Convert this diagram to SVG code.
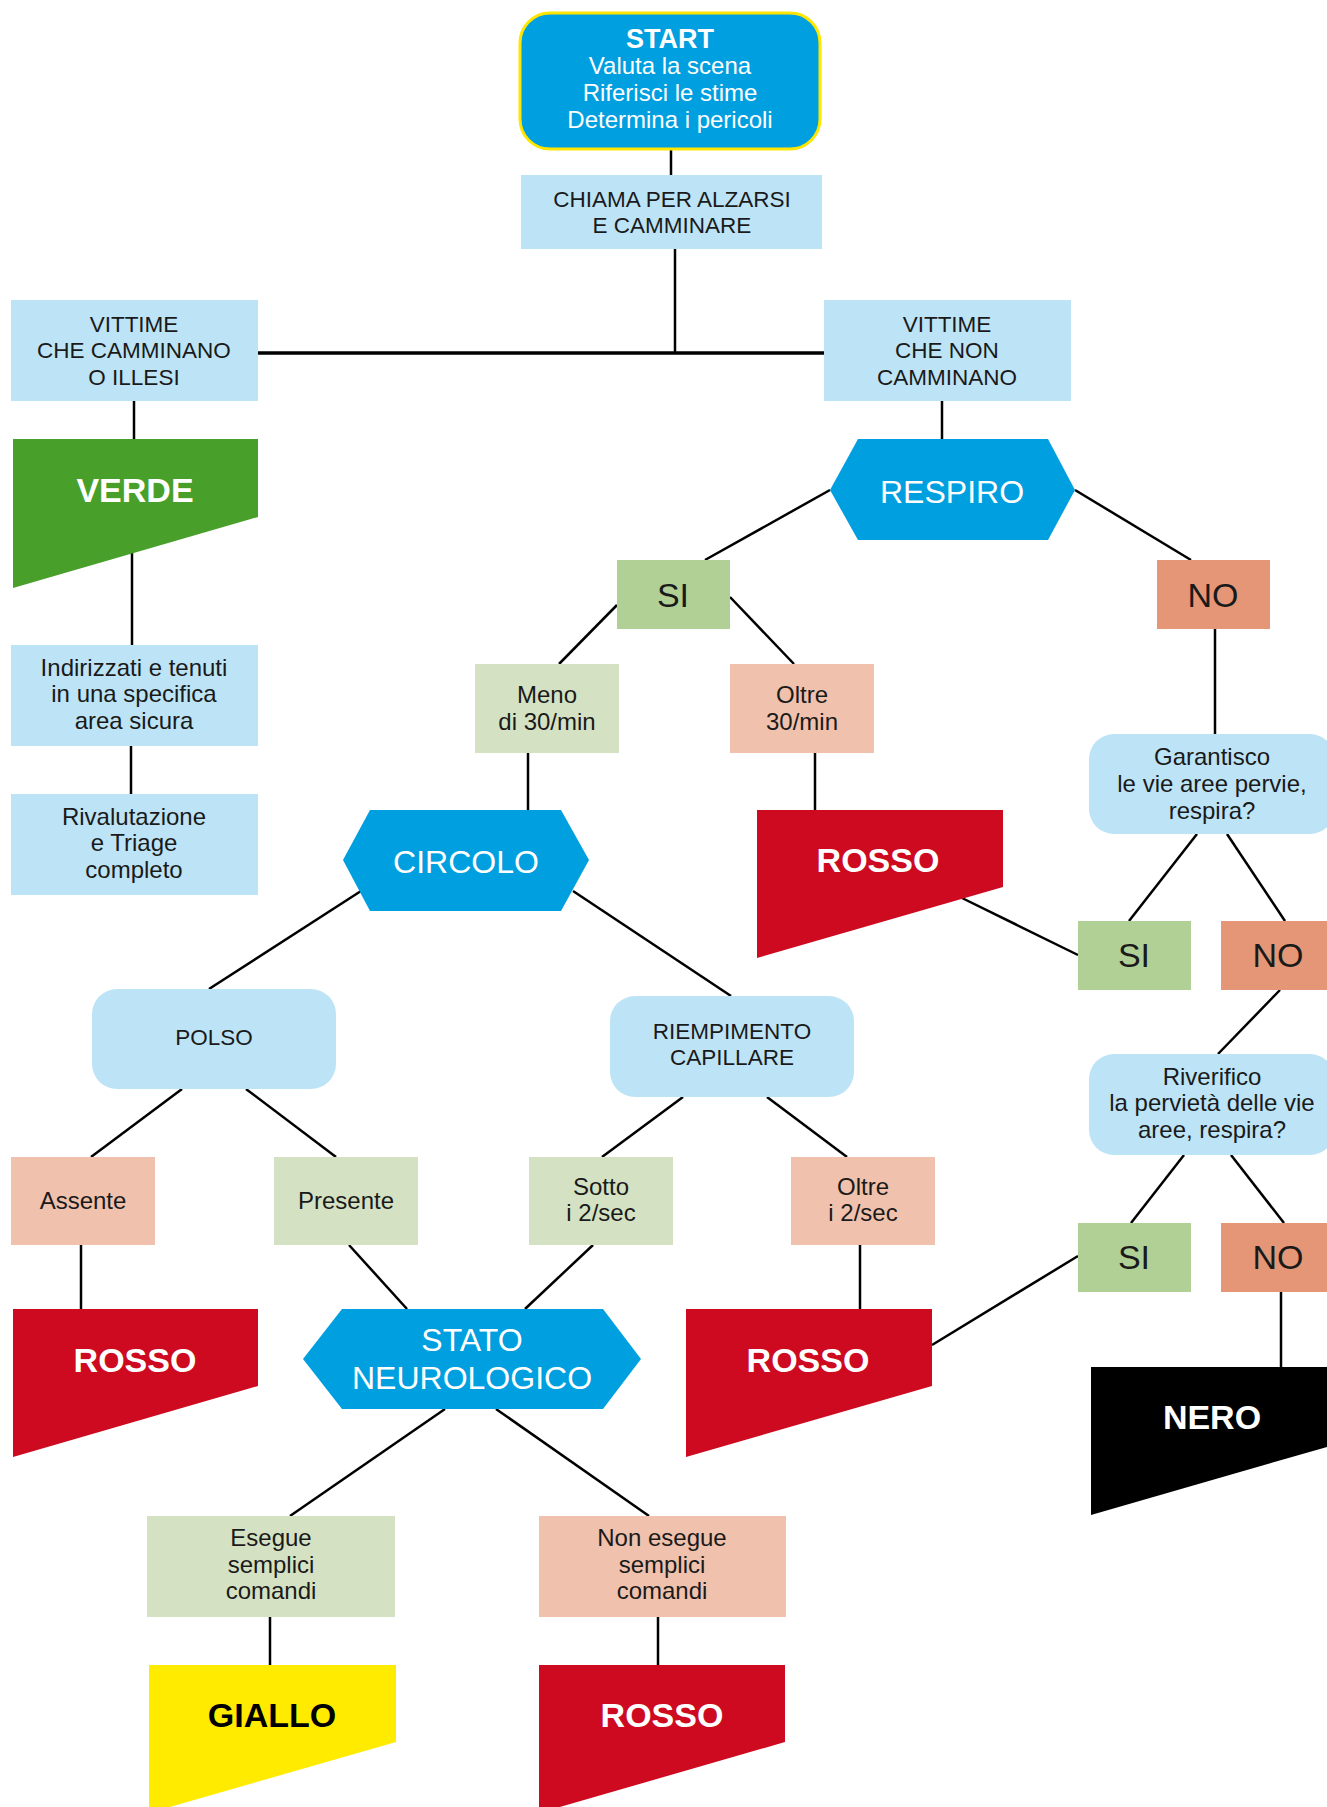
<svg xmlns="http://www.w3.org/2000/svg" width="1327" height="1807" viewBox="0 0 1327 1807">
<style>
  text { font-family: "Liberation Sans", Arial, sans-serif; text-anchor: middle; }
  .t { font-size: 24px; fill: #1a1a1a; }
  .c { font-size: 22.5px; fill: #1a1a1a; }
  .w { font-size: 24px; fill: #ffffff; }
  .big { font-size: 32px; fill: #ffffff; }
  .tag { font-size: 34px; font-weight: bold; fill: #ffffff; }
  .yn { font-size: 34px; fill: #1a1a1a; }
  .lb { fill: #BDE4F6; }
  .blue { fill: #009FE0; }
  .sig { fill: #B1D095; }
  .nos { fill: #E49676; }
  .pg { fill: #D4E2C3; }
  .ps { fill: #F0C1AC; }
  .red { fill: #CD0A20; }
  #connectors line { stroke: #000; stroke-width: 2.5; }
</style>

<g id="connectors">
  <line x1="671" y1="150" x2="671" y2="175"/>
  <line x1="675" y1="249" x2="675" y2="353"/>
  <line x1="258" y1="353" x2="824" y2="353" style="stroke-width:3.5"/>
  <line x1="134" y1="401" x2="134" y2="439"/>
  <line x1="942" y1="401" x2="942" y2="439"/>
  <line x1="132" y1="553" x2="132" y2="645"/>
  <line x1="131" y1="746" x2="131" y2="794"/>
  <line x1="830" y1="490" x2="705" y2="560"/>
  <line x1="1075" y1="490" x2="1191" y2="560"/>
  <line x1="617" y1="605" x2="559" y2="664"/>
  <line x1="730" y1="597" x2="794" y2="664"/>
  <line x1="1215" y1="629" x2="1215" y2="734"/>
  <line x1="528" y1="753" x2="528" y2="810"/>
  <line x1="815" y1="753" x2="815" y2="810"/>
  <line x1="361" y1="891" x2="209" y2="989"/>
  <line x1="573" y1="891" x2="731" y2="996"/>
  <line x1="962" y1="898" x2="1078" y2="955"/>
  <line x1="1197" y1="834" x2="1129" y2="921"/>
  <line x1="1227" y1="834" x2="1285" y2="921"/>
  <line x1="1280" y1="990" x2="1218" y2="1054"/>
  <line x1="182" y1="1089" x2="91" y2="1157"/>
  <line x1="246" y1="1089" x2="336" y2="1157"/>
  <line x1="683" y1="1097" x2="602" y2="1157"/>
  <line x1="767" y1="1097" x2="847" y2="1157"/>
  <line x1="1184" y1="1155" x2="1131" y2="1223"/>
  <line x1="1231" y1="1155" x2="1284" y2="1223"/>
  <line x1="81" y1="1245" x2="81" y2="1309"/>
  <line x1="349" y1="1245" x2="407" y2="1309"/>
  <line x1="593" y1="1245" x2="525" y2="1309"/>
  <line x1="860" y1="1245" x2="860" y2="1309"/>
  <line x1="932" y1="1345" x2="1078" y2="1256"/>
  <line x1="1281" y1="1292" x2="1281" y2="1367"/>
  <line x1="445" y1="1409" x2="290" y2="1516"/>
  <line x1="496" y1="1409" x2="649" y2="1516"/>
  <line x1="270" y1="1617" x2="270" y2="1665"/>
  <line x1="658" y1="1617" x2="658" y2="1665"/>
</g>

<g id="start">
  <rect x="520" y="13" width="300" height="136" rx="30" class="blue" stroke="#FFE600" stroke-width="3"/>
  <text x="670" y="48" style="font-size:27px;font-weight:bold;fill:#fff">START</text>
  <text x="670" y="74" class="w">Valuta la scena</text>
  <text x="670" y="101" class="w">Riferisci le stime</text>
  <text x="670" y="128" class="w">Determina i pericoli</text>
</g>

<g id="chiama">
  <rect x="521" y="175" width="301" height="74" class="lb"/>
  <text x="672" y="207" class="c">CHIAMA PER ALZARSI</text>
  <text x="672" y="233" class="c">E CAMMINARE</text>
</g>

<g id="vittime-camminano">
  <rect x="11" y="300" width="247" height="101" class="lb"/>
  <text x="134" y="332" class="c">VITTIME</text>
  <text x="134" y="358" class="c">CHE CAMMINANO</text>
  <text x="134" y="385" class="c">O ILLESI</text>
</g>

<g id="vittime-non-camminano">
  <rect x="824" y="300" width="247" height="101" class="lb"/>
  <text x="947" y="332" class="c">VITTIME</text>
  <text x="947" y="358" class="c">CHE NON</text>
  <text x="947" y="385" class="c">CAMMINANO</text>
</g>

<g id="verde">
  <polygon points="13,439 258,439 258,517 13,588" fill="#48A02B"/>
  <text x="135" y="502" class="tag">VERDE</text>
</g>

<g id="indirizzati">
  <rect x="11" y="645" width="247" height="101" class="lb"/>
  <text x="134" y="676" class="t">Indirizzati e tenuti</text>
  <text x="134" y="702" class="t">in una specifica</text>
  <text x="134" y="729" class="t">area sicura</text>
</g>

<g id="rivalutazione">
  <rect x="11" y="794" width="247" height="101" class="lb"/>
  <text x="134" y="825" class="t">Rivalutazione</text>
  <text x="134" y="851" class="t">e Triage</text>
  <text x="134" y="878" class="t">completo</text>
</g>

<g id="respiro">
  <polygon points="858,439 1048,439 1075,490 1048,540 858,540 830,490" class="blue"/>
  <text x="952" y="503" class="big">RESPIRO</text>
</g>

<g id="si1">
  <rect x="617" y="560" width="113" height="69" class="sig"/>
  <text x="673" y="607" class="yn">SI</text>
</g>

<g id="no1">
  <rect x="1157" y="560" width="113" height="69" class="nos"/>
  <text x="1213" y="607" class="yn">NO</text>
</g>

<g id="meno">
  <rect x="475" y="664" width="144" height="89" class="pg"/>
  <text x="547" y="703" class="t">Meno</text>
  <text x="547" y="730" class="t">di 30/min</text>
</g>

<g id="oltre30">
  <rect x="730" y="664" width="144" height="89" class="ps"/>
  <text x="802" y="703" class="t">Oltre</text>
  <text x="802" y="730" class="t">30/min</text>
</g>

<g id="garantisco">
  <rect x="1089" y="734" width="246" height="100" rx="25" class="lb"/>
  <text x="1212" y="765" class="t">Garantisco</text>
  <text x="1212" y="792" class="t">le vie aree pervie,</text>
  <text x="1212" y="819" class="t">respira?</text>
</g>

<g id="circolo">
  <polygon points="370,810 561,810 589,860 561,911 370,911 343,860" class="blue"/>
  <text x="466" y="873" class="big">CIRCOLO</text>
</g>

<g id="rosso1">
  <polygon points="757,810 1003,810 1003,887 757,958" class="red"/>
  <text x="878" y="872" class="tag">ROSSO</text>
</g>

<g id="si2">
  <rect x="1078" y="921" width="113" height="69" class="sig"/>
  <text x="1134" y="967" class="yn">SI</text>
</g>

<g id="no2">
  <rect x="1221" y="921" width="113" height="69" class="nos"/>
  <text x="1278" y="967" class="yn">NO</text>
</g>

<g id="polso">
  <rect x="92" y="989" width="244" height="100" rx="25" class="lb"/>
  <text x="214" y="1045" class="c">POLSO</text>
</g>

<g id="riempimento">
  <rect x="610" y="996" width="244" height="101" rx="25" class="lb"/>
  <text x="732" y="1039" class="c">RIEMPIMENTO</text>
  <text x="732" y="1065" class="c">CAPILLARE</text>
</g>

<g id="riverifico">
  <rect x="1089" y="1054" width="246" height="101" rx="25" class="lb"/>
  <text x="1212" y="1085" class="t">Riverifico</text>
  <text x="1212" y="1111" class="t">la pervietà delle vie</text>
  <text x="1212" y="1138" class="t">aree, respira?</text>
</g>

<g id="assente">
  <rect x="11" y="1157" width="144" height="88" class="ps"/>
  <text x="83" y="1209" class="t">Assente</text>
</g>

<g id="presente">
  <rect x="274" y="1157" width="144" height="88" class="pg"/>
  <text x="346" y="1209" class="t">Presente</text>
</g>

<g id="sotto">
  <rect x="529" y="1157" width="144" height="88" class="pg"/>
  <text x="601" y="1195" class="t">Sotto</text>
  <text x="601" y="1221" class="t">i 2/sec</text>
</g>

<g id="oltre2sec">
  <rect x="791" y="1157" width="144" height="88" class="ps"/>
  <text x="863" y="1195" class="t">Oltre</text>
  <text x="863" y="1221" class="t">i 2/sec</text>
</g>

<g id="si3">
  <rect x="1078" y="1223" width="113" height="69" class="sig"/>
  <text x="1134" y="1269" class="yn">SI</text>
</g>

<g id="no3">
  <rect x="1221" y="1223" width="113" height="69" class="nos"/>
  <text x="1278" y="1269" class="yn">NO</text>
</g>

<g id="rosso2">
  <polygon points="13,1309 258,1309 258,1386 13,1457" class="red"/>
  <text x="135" y="1372" class="tag">ROSSO</text>
</g>

<g id="stato">
  <polygon points="342,1309 603,1309 641,1359 603,1409 342,1409 303,1359" class="blue"/>
  <text x="472" y="1351" class="big">STATO</text>
  <text x="472" y="1389" class="big">NEUROLOGICO</text>
</g>

<g id="rosso3">
  <polygon points="686,1309 932,1309 932,1386 686,1457" class="red"/>
  <text x="808" y="1372" class="tag">ROSSO</text>
</g>

<g id="nero">
  <polygon points="1091,1367 1337,1367 1337,1444 1091,1515" fill="#000"/>
  <text x="1212" y="1429" class="tag">NERO</text>
</g>

<g id="esegue">
  <rect x="147" y="1516" width="248" height="101" class="pg"/>
  <text x="271" y="1546" class="t">Esegue</text>
  <text x="271" y="1573" class="t">semplici</text>
  <text x="271" y="1599" class="t">comandi</text>
</g>

<g id="non-esegue">
  <rect x="539" y="1516" width="247" height="101" class="ps"/>
  <text x="662" y="1546" class="t">Non esegue</text>
  <text x="662" y="1573" class="t">semplici</text>
  <text x="662" y="1599" class="t">comandi</text>
</g>

<g id="giallo">
  <polygon points="149,1665 396,1665 396,1742 149,1813" fill="#FFEB00"/>
  <text x="272" y="1727" class="tag" style="fill:#000">GIALLO</text>
</g>

<g id="rosso4">
  <polygon points="539,1665 785,1665 785,1742 539,1813" class="red"/>
  <text x="662" y="1727" class="tag">ROSSO</text>
</g>
</svg>
